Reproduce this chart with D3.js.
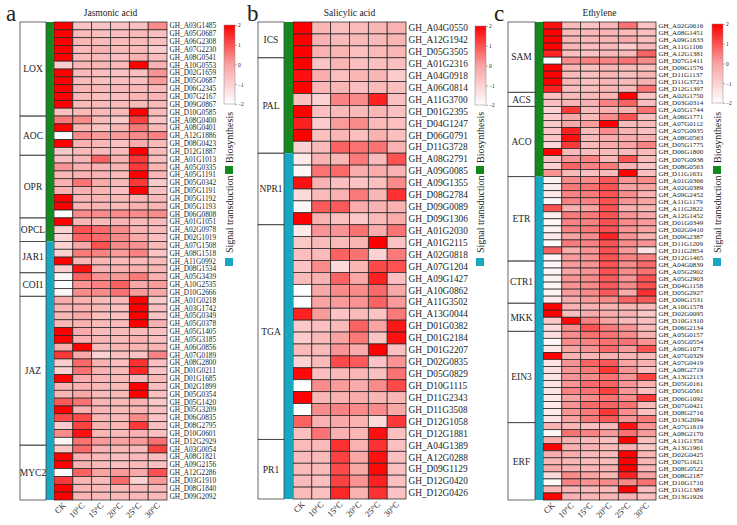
<!DOCTYPE html>
<html>
<head>
<meta charset="utf-8">
<script src="https://cdn.jsdelivr.net/npm/d3@7"></script>
<style>
  body { margin: 0; background: #fff; }
  text { font-family: "Liberation Serif", "Times New Roman", serif; fill: #222; }
</style>
</head>
<body>
<svg id="chart" width="737" height="525"></svg>
<script>
const columns = ['CK', '10°C', '15°C', '20°C', '25°C', '30°C'];
const legendTicks = [2, 1, 0, -1, -2];

// Jasmonic acid
const jaGroups = [['LOX', 12], ['AOC', 5], ['OPR', 8], ['OPCL', 3], ['JAR1', 4], ['COI1', 3], ['JAZ', 19], ['MYC2', 7]];
const jaBioCount = 28;
const jaGenes = ['GH_A03G1485', 'GH_A05G0687', 'GH_A06G2308', 'GH_A07G2230', 'GH_A08G0541', 'GH_A10G0553', 'GH_D02G1659', 'GH_D05G0687', 'GH_D06G2345', 'GH_D07G2167', 'GH_D09G0867', 'GH_D10G0585',
  'GH_A08G0400', 'GH_A08G0401', 'GH_A12G1886', 'GH_D08G0423', 'GH_D12G1887',
  'GH_A01G1013', 'GH_A05G0335', 'GH_A05G1191', 'GH_D05G0342', 'GH_D05G1191', 'GH_D05G1192', 'GH_D05G1193', 'GH_D06G0808',
  'GH_A01G1051', 'GH_A02G0978', 'GH_D02G1019',
  'GH_A07G1508', 'GH_A08G1518', 'GH_A11G0992', 'GH_D08G1534',
  'GH_A05G3439', 'GH_A10G2535', 'GH_D10G2666',
  'GH_A01G0218', 'GH_A03G1742', 'GH_A05G0349', 'GH_A05G0378', 'GH_A05G1405', 'GH_A05G3185', 'GH_A06G0856', 'GH_A07G0189', 'GH_A08G2800', 'GH_D01G0211', 'GH_D01G1685', 'GH_D02G1899', 'GH_D05G0354', 'GH_D05G1420', 'GH_D05G3209', 'GH_D06G0835', 'GH_D08G2795', 'GH_D10G0601', 'GH_D12G2929',
  'GH_A03G0054', 'GH_A08G1821', 'GH_A09G2156', 'GH_A12G2286', 'GH_D03G1910', 'GH_D08G1840', 'GH_D09G2092'];
const jaValues = [
  [2, -0.7, -0.7, -0.7, -0.6, 0.3], [2, -0.5, -0.6, -0.6, -0.5, -0.6], [2, -0.4, -0.5, -0.5, -0.5, -0.6], [2, -0.5, -0.3, -0.5, -0.5, -0.9],
  [2, -0.5, -0.5, -0.6, -0.3, -0.6], [-0.9, -0.4, -0.4, -0.5, 2, -0.3], [2, -0.5, -0.6, -0.7, -0.6, 0.2], [2, -0.5, -0.6, -0.6, -0.6, 0.1],
  [2, -0.4, -0.5, -0.5, -0.5, -0.5], [2, -0.5, -0.6, -0.6, -0.4, -0.4], [2, -0.5, -0.5, -0.5, -0.5, -0.5], [-0.6, -0.5, -0.5, -0.5, 2, -0.5],
  [0.5, 0.3, -0.5, -0.8, 1.2, -0.7], [2, -0.4, -0.7, -0.4, 0.5, -0.5], [-2, 0.3, 0.1, 0.1, 0.3, 0.4], [2, -0.3, -0.4, -0.6, -0.2, -0.5], [-0.8, -0.5, -0.5, -0.5, 2, -0.5],
  [-0.6, -0.4, 0.8, -0.3, 1.3, -0.6], [0.2, -0.3, -0.3, -0.4, 1.3, -0.4], [-0.4, -0.3, -0.3, -0.5, 2, -0.4], [-0.3, 0.6, -0.2, -0.5, 1.3, -0.9],
  [-0.3, -0.3, -0.4, -0.6, 2, -0.6], [2, -0.4, -0.4, -0.5, -0.4, -0.5], [2, -0.4, -0.4, -0.5, -0.3, -0.4], [-2, 0.3, 0.3, 0.3, 0.3, 0.3],
  [2, -0.4, -0.5, -0.4, -0.5, -0.5], [-1, 1.0, 0.7, 0.3, -0.3, -0.5], [-1.1, 0.8, 0.7, 0.3, -0.2, -0.6],
  [-1, -0.1, 1.0, 0.3, 0.2, -0.5], [-1, 0.5, 0.4, 0.1, 0.4, -0.7], [2, -0.4, -0.4, -0.5, -0.5, -0.5], [-0.9, 1.8, -0.3, -0.3, -0.3, -0.4],
  [-1.8, 0.8, 0.2, 0.1, 0.5, -0.3], [-2, 0.2, 0.4, 0.8, -0.1, 0.1], [-1.8, 0.3, 0.3, 0.6, 0.1, -0.1],
  [-0.2, -0.3, -0.5, -0.5, 2, -0.8], [-0.4, -0.3, -0.5, -0.6, 2, -0.6], [-0.4, -0.1, -0.6, -0.6, 2, -0.7], [-0.4, -0.3, -0.5, -0.5, 2, -0.3],
  [2, -0.2, -0.5, -0.5, -0.5, -0.6], [2, -0.3, -0.4, -0.5, -0.3, -0.6], [-0.2, 2, -0.5, -0.4, -0.4, -0.4], [1.3, -0.1, -1.0, -0.6, -0.7, 0.4],
  [-0.9, 0.7, -0.3, -0.6, 1.4, -0.6], [-1.0, 0.6, -0.3, -0.5, 1.5, -0.7], [2, -0.2, -0.4, -0.5, -0.5, -0.5], [-0.3, -0.3, -0.5, -0.5, 2, -0.6],
  [-0.4, -0.1, -0.5, -0.5, 2, -0.6], [0.9, 0.6, -0.4, -0.5, -0.3, -0.8], [2, -0.3, -0.4, -0.5, -0.4, -0.6], [1.1, 1.1, -0.4, -0.5, 0.3, -0.7],
  [-0.9, 1.2, -0.3, -0.4, 1.3, -0.6], [0.3, 1.8, -0.4, -0.5, -0.3, -0.6], [-1.8, 0.6, 0.1, 0.0, 0.1, 0.6],
  [-0.8, 0.7, -0.3, -0.4, -0.5, 1.2], [2, -0.3, -0.5, -0.6, -0.5, -0.6], [2, -0.3, -0.5, -0.6, -0.5, -0.6], [-1.9, 0.8, 0.0, 0.1, -0.1, 1.0],
  [1.3, -0.4, -0.5, 0.7, -1.0, 0.1], [2, -0.4, -0.5, -0.5, -0.5, -0.5], [2, -0.4, -0.5, -0.5, -0.5, -0.5]
];

// Salicylic acid
const saGroups = [['ICS', 3], ['PAL', 8], ['NPR1', 6], ['TGA', 18], ['PR1', 5]];
const saBioCount = 11;
const saGenes = ['GH_A04G0550', 'GH_A12G1942', 'GH_D05G3505',
  'GH_A01G2316', 'GH_A04G0918', 'GH_A06G0814', 'GH_A11G3700', 'GH_D01G2395', 'GH_D04G1247', 'GH_D06G0791', 'GH_D11G3728',
  'GH_A08G2791', 'GH_A09G0085', 'GH_A09G1355', 'GH_D08G2784', 'GH_D09G0089', 'GH_D09G1306',
  'GH_A01G2030', 'GH_A01G2115', 'GH_A02G0818', 'GH_A07G1204', 'GH_A09G1427', 'GH_A10G0862', 'GH_A11G3502', 'GH_A13G0044', 'GH_D01G0382',
  'GH_D01G2184', 'GH_D01G2207', 'GH_D02G0835', 'GH_D05G0829', 'GH_D10G1115', 'GH_D11G2343', 'GH_D11G3508', 'GH_D12G1058', 'GH_D12G1881',
  'GH_A04G1389', 'GH_A12G0288', 'GH_D09G1129', 'GH_D12G0420', 'GH_D12G0426'];
const saValues = [
  [2, -0.4, -0.6, -0.5, -0.4, -0.3], [2, -0.3, -0.5, -0.5, -0.5, -0.4], [2, -0.3, -0.4, -0.6, -0.5, -0.4],
  [2, -0.7, -0.4, -0.6, -0.6, -0.6], [1.8, -0.2, -0.6, -0.4, -0.4, -0.9], [2, -0.4, -0.4, -0.6, -0.5, -0.6], [-0.6, -1.0, 0.4, 0.3, 1.6, -0.6],
  [2, -0.6, -0.5, -0.5, -0.4, -0.6], [1.6, -0.9, 0.1, 0.3, -0.5, -0.6], [2, -0.6, -0.4, -0.6, -0.3, -0.6], [-1.0, -0.5, 0.8, 0.6, 0.6, -0.3],
  [-1.5, -0.3, -0.4, 0.5, -0.5, 1.0], [-1.8, 0.6, 0.7, -0.2, -0.2, -0.3], [1.8, -0.3, -0.6, -0.7, -0.6, 0.3], [-1.2, -0.5, -0.3, 0.5, -0.4, 1.4],
  [-1.8, 0.9, 0.9, -0.2, -0.3, -0.3], [2, -0.3, -0.6, -0.8, -0.5, -0.2],
  [-1.5, 0.2, 0.2, 0.6, -0.2, 0.6], [-0.8, -0.5, -0.5, -0.4, 2, -0.7], [-0.6, -0.5, 0.8, 0.6, -1.0, 0.5], [-0.7, 0.3, -1.2, -0.4, 1.1, 1.0],
  [-0.5, -0.3, 0.8, -0.1, 1.6, -0.6], [-2, -0.1, 0.3, 0.3, 0.7, -0.1], [-2, 0.0, 0.1, 0.2, 0.8, 0.1], [1.6, 0.1, -0.7, -0.5, -0.7, 0.5],
  [-0.8, -0.6, -0.5, 0.8, 0.0, 1.7], [-0.9, -0.5, 0.0, 0.5, -0.7, 1.8], [-0.5, -0.5, 0.2, -0.2, 2, -0.6], [-1.0, -0.5, 1.1, 0.9, -0.7, 0.2],
  [1.9, -0.6, -0.5, -0.4, -0.6, 0.6], [-2, 0.3, 0.1, -0.2, 0.3, 1.1], [2, -0.4, -0.3, -0.2, -0.4, -0.4], [-2, 0.3, 0.4, 0.3, 0.3, -0.1],
  [0.8, -0.3, -0.1, -0.3, -1.2, 1.3], [-0.6, 0.6, -0.3, -0.4, 1.8, -0.6],
  [-0.5, -0.5, 1.4, -0.3, 1.4, -0.6], [-0.5, -0.5, 1.2, -0.1, 1.8, -0.6], [-0.5, -0.5, 1.1, -0.1, 1.9, -0.6], [-0.5, -0.6, 1.2, 0.2, 1.6, -0.6],
  [-0.5, -0.6, 1.5, -0.3, 1.4, -0.7]
];

// Ethylene
const etGroups = [['SAM', 10], ['ACS', 2], ['ACO', 10], ['ETR', 12], ['CTR1', 6], ['MKK', 4], ['EIN3', 13], ['ERF', 11]];
const etBioCount = 22;
const etGenes = ['GH_A02G0616', 'GH_A08G1451', 'GH_A09G1633', 'GH_A11G1106', 'GH_A12G1381', 'GH_D07G1411', 'GH_D09G1576', 'GH_D11G1137', 'GH_D11G3723', 'GH_D12G1397',
  'GH_A02G1750', 'GH_D03G0314',
  'GH_A05G1744', 'GH_A06G1771', 'GH_A07G0112', 'GH_A07G0935', 'GH_A08G0563', 'GH_D05G1775', 'GH_D06G1800', 'GH_D07G0938', 'GH_D08G0563', 'GH_D11G1631',
  'GH_A01G0366', 'GH_A02G0389', 'GH_A09G2452', 'GH_A11G1179', 'GH_A11G2822', 'GH_A12G1452', 'GH_D01G0349', 'GH_D02G0410', 'GH_D09G2387', 'GH_D11G1209', 'GH_D11G2854', 'GH_D12G1465',
  'GH_A04G0839', 'GH_A05G2902', 'GH_A05G2903', 'GH_D04G1158', 'GH_D05G2927', 'GH_D09G1531',
  'GH_A10G1578', 'GH_D02G0095', 'GH_D10G1310', 'GH_D06G2134',
  'GH_A05G0157', 'GH_A05G0554', 'GH_A06G1073', 'GH_A07G0329', 'GH_A07G0419', 'GH_A08G2719', 'GH_A13G2113', 'GH_D05G0161', 'GH_D05G0561', 'GH_D06G1092', 'GH_D07G0421', 'GH_D08G2716', 'GH_D13G2094',
  'GH_A07G1619', 'GH_A08G2170', 'GH_A11G1356', 'GH_A13G1961', 'GH_D02G0425', 'GH_D07G1621', 'GH_D08G0522', 'GH_D08G2187', 'GH_D10G1710', 'GH_D11G1389', 'GH_D13G1926'];
const etValues = [
  [1.8, -0.5, -0.7, -0.4, 0.6, -0.7], [2, -0.5, -0.5, -0.4, -0.5, -0.6], [2, -0.4, -0.5, -0.4, -0.2, -0.6], [2, -0.4, -0.6, -0.5, -0.9, -0.5],
  [1.6, -0.6, -0.7, -0.5, -0.5, 0.8], [-2, 0.3, 0.4, 0.4, 0.6, 0.3], [2, -0.4, -0.6, -0.4, -0.5, -0.6], [2, -0.5, -0.6, -0.4, -0.6, -0.4],
  [2, -0.4, -0.6, -0.4, -0.5, -0.3], [1.6, -0.6, -0.6, -0.4, -0.5, 0.6],
  [-0.6, -0.5, -0.5, -0.4, 2, -0.7], [-0.6, -0.4, -0.3, 0.4, 0.8, -0.6],
  [-1.0, 1.3, -0.5, -0.3, -0.3, 0.6], [-0.9, -0.1, -0.5, 0.3, 1.0, -0.6], [-0.8, -0.1, 0.1, 2, -0.5, -0.5], [-0.7, 1.6, -0.5, 0.3, -0.3, -0.6],
  [-0.7, 1.8, -0.5, -0.2, -0.2, -0.3], [-1.1, 1.3, -0.5, -0.2, 0.0, 0.4], [2, -0.5, -0.6, -0.5, -0.5, -0.5], [-0.6, 0.2, 0.4, -0.4, 1.0, -0.5],
  [-1.0, 0.8, 0.4, 0.5, -0.3, -0.7], [0.2, -0.5, -0.6, -0.5, 2, -0.6],
  [-1.7, 0.3, 0.3, 0.9, 0.2, 0.3], [-1.6, 0.5, 0.6, 1.0, 0.0, 0.0], [-1.5, 0.4, 0.5, 1.0, 0.3, -0.3], [-1.8, 0.4, 0.4, 1.0, 0.2, 0.0],
  [1.0, -0.3, 0.0, 1.0, -0.3, -0.4], [-1.6, 0.5, 0.5, 1.0, 0.2, -0.1], [-1.8, 0.4, 0.4, 1.0, 0.3, 0.1], [-1.7, 0.4, 0.5, 1.0, 0.2, 0.0],
  [-1.5, 0.0, 0.3, 1.6, 0.2, -0.3], [-1.9, 0.5, 0.4, 1.0, 0.3, 0.2], [0.8, -0.2, 0.2, 1.0, 0.1, -1.4], [-1.8, 0.1, 0.2, 1.0, 0.4, 0.4],
  [-1.8, 0.1, 0.2, 1.0, 0.3, 0.7], [-1.8, 0.0, 0.2, 1.0, 0.3, 0.6], [-1.7, 0.2, 0.3, 0.9, 0.2, 1.0], [-1.8, 0.2, 0.3, 0.9, 0.3, 1.0],
  [-1.7, 0.1, 0.3, 0.9, -0.2, 1.4], [-1.5, -0.2, 0.1, 0.3, 0.8, 0.9],
  [2, -0.3, -0.3, -0.3, -0.4, -0.5], [2, -0.6, -0.2, -0.2, -0.3, -0.8], [-0.8, 1.9, 0.4, 0.0, -0.5, -0.6], [-1.2, 0.3, 1.0, 0.5, 0.2, -0.5],
  [-1.3, 0.3, 0.6, 0.6, 0.3, -0.3], [-1.8, 0.3, 0.4, 0.6, 0.6, 0.2], [-1.5, 0.0, 0.2, 0.7, 0.1, 1.0], [2, -0.3, -0.4, -0.3, -0.4, -0.5],
  [-1.4, 0.2, 0.8, 0.9, 0.0, -0.3], [-1.3, 0.2, 0.5, 1.3, 0.2, -0.6], [-1.4, 0.2, 0.3, 0.6, 0.2, 1.2], [-1.4, 0.2, 0.7, 0.8, 0.2, -0.3],
  [-1.4, 0.4, 0.6, 1.2, 0.2, -0.6], [-1.5, 0.0, 0.3, 0.6, 0.3, 1.3], [-1.5, 0.2, 0.7, 0.8, 0.6, -0.5], [-1.5, 0.2, 0.5, 1.3, 0.3, -0.6],
  [-1.4, 0.0, 0.5, 0.9, 0.2, 0.5],
  [-0.3, -0.4, -0.6, -0.5, 1.8, 0.2], [-1.8, 0.6, 0.4, 0.1, 0.6, 0.1], [-0.2, -0.3, -0.5, -0.6, 2, -0.6], [2, -0.3, -0.3, -0.5, -0.3, -0.8],
  [-0.2, -0.2, -0.5, -0.5, 2, -0.4], [-0.4, -0.4, -0.5, -0.5, 2, -0.4], [-0.2, -0.3, -0.4, -0.3, 2, -0.4], [-1.2, 0.3, 0.0, -0.4, 1.6, 0.0],
  [-1.9, 0.4, 0.2, 0.3, 0.3, 0.6], [-0.4, -0.4, -0.5, -0.5, 2, -0.6], [2, -0.3, -0.4, -0.4, -0.3, -0.6]
];

const bioColor = '#12891f';
const sigColor = '#17a7c1';
const color = d3.scaleLinear().domain([-2, 0, 2]).range(['#ffffff', '#f9a3a3', '#fe0000']).clamp(true);

const svg = d3.select('#chart');
const defs = svg.append('defs');

function drawPanel(cfg) {
    const g = svg.append('g');
    const x = d3.scaleBand().domain(columns).range([cfg.heatX0, cfg.heatX1]);
    const y = d3.scaleBand().domain(d3.range(cfg.genes.length)).range([cfg.top, cfg.bottom]);

    // panel letter and title
    g.append('text').attr('x', cfg.letterX).attr('y', 21)
        .style('font-size', '23px').text(cfg.letter);
    g.append('text').attr('x', (cfg.heatX0 + cfg.heatX1) / 2).attr('y', 16)
        .attr('text-anchor', 'middle').style('font-size', '9.5px').text(cfg.title);

    // cells
    cfg.values.forEach((row, i) => {
        g.selectAll(null).data(row).join('rect')
            .attr('x', (d, j) => x(columns[j]))
            .attr('y', y(i))
            .attr('width', x.bandwidth())
            .attr('height', y.bandwidth())
            .attr('fill', d => color(d))
            .attr('stroke', '#262626')
            .attr('stroke-width', 0.75);
    });

    // gene labels
    g.selectAll('.gene').data(cfg.genes).join('text')
        .attr('class', 'gene')
        .attr('x', cfg.heatX1 + 2.5)
        .attr('y', (d, i) => y(i) + y.bandwidth() / 2)
        .attr('dy', '0.35em')
        .style('font-size', cfg.geneFont + 'px')
        .text(d => d);

    // column labels
    g.selectAll('.col').data(columns).join('text')
        .attr('class', 'col')
        .attr('text-anchor', 'end')
        .attr('transform', d => 'translate(' + (x(d) + x.bandwidth() / 2 + 3) + ',' + (cfg.bottom + 6) + ') rotate(-45)')
        .style('font-size', '8.5px')
        .text(d => d);

    // category color bar
    const n = cfg.genes.length;
    g.append('rect').attr('x', cfg.barX0).attr('y', y(0))
        .attr('width', cfg.barX1 - cfg.barX0).attr('height', y.step() * cfg.bioCount)
        .attr('fill', bioColor);
    g.append('rect').attr('x', cfg.barX0).attr('y', y(cfg.bioCount))
        .attr('width', cfg.barX1 - cfg.barX0).attr('height', y.step() * (n - cfg.bioCount))
        .attr('fill', sigColor);

    // group boxes
    let start = 0;
    cfg.groups.forEach(gr => {
        const y0 = cfg.top + start * y.step();
        const h = gr[1] * y.step();
        g.append('rect').attr('x', cfg.boxX0).attr('y', y0)
            .attr('width', cfg.barX0 - cfg.boxX0).attr('height', h)
            .attr('fill', 'none').attr('stroke', '#444').attr('stroke-width', 0.8);
        g.append('text').attr('x', (cfg.boxX0 + cfg.barX0) / 2).attr('y', y0 + h / 2)
            .attr('dy', '0.35em').attr('text-anchor', 'middle')
            .style('font-size', '9.5px').text(gr[0]);
        start += gr[1];
    });

    // legend
    const lg = g.append('g');
    const ly = d3.scaleLinear().domain([2, -2]).range([cfg.legTop, cfg.legTop + 79]);
    const gradId = 'grad' + cfg.letter;
    const grad = defs.append('linearGradient').attr('id', gradId)
        .attr('x1', 0).attr('y1', 1).attr('x2', 0).attr('y2', 0);
    [-2, 0, 2].forEach(v => {
        grad.append('stop').attr('offset', ((v + 2) / 4 * 100) + '%').attr('stop-color', color(v));
    });
    lg.append('rect').attr('x', cfg.legX).attr('y', cfg.legTop).attr('width', 11).attr('height', 79)
        .attr('fill', 'url(#' + gradId + ')').attr('stroke', '#888').attr('stroke-width', 0.5);
    const ax = lg.append('g').attr('transform', 'translate(' + (cfg.legX + 11) + ',0)')
        .call(d3.axisRight(ly).tickValues(legendTicks).tickSize(2).tickFormat(d3.format('d')));
    ax.select('.domain').remove();
    ax.selectAll('line').attr('stroke', '#666').attr('stroke-width', 0.5);
    ax.selectAll('text').attr('x', 3).style('font-size', '5.5px')
        .style('font-family', '"Liberation Serif", serif').attr('fill', '#222');

    // category legend
    const cx = cfg.legX + 5;
    lg.append('text').attr('transform', 'translate(' + (cx + 3.5) + ',163) rotate(-90)')
        .style('font-size', '10px').text('Biosynthesis');
    lg.append('rect').attr('x', cx - 4).attr('y', 166).attr('width', 8).attr('height', 8).attr('fill', bioColor);
    lg.append('text').attr('transform', 'translate(' + (cx + 3.5) + ',253) rotate(-90)')
        .style('font-size', '10px').text('Signal transduction');
    lg.append('rect').attr('x', cx - 4).attr('y', 258).attr('width', 8).attr('height', 8).attr('fill', sigColor);
}

drawPanel({
    letter: 'a', title: 'Jasmonic acid', genes: jaGenes, values: jaValues, groups: jaGroups, bioCount: jaBioCount,
    letterX: 6, boxX0: 20, barX0: 46, barX1: 54, heatX0: 54, heatX1: 167, top: 22, bottom: 500,
    geneFont: 7.3, legX: 224, legTop: 25
});
drawPanel({
    letter: 'b', title: 'Salicylic acid', genes: saGenes, values: saValues, groups: saGroups, bioCount: saBioCount,
    letterX: 247, boxX0: 258, barX0: 284, barX1: 293, heatX0: 293, heatX1: 406, top: 22, bottom: 499,
    geneFont: 9.3, legX: 475, legTop: 26
});
drawPanel({
    letter: 'c', title: 'Ethylene', genes: etGenes, values: etValues, groups: etGroups, bioCount: etBioCount,
    letterX: 494, boxX0: 508, barX0: 535, barX1: 543, heatX0: 543, heatX1: 656, top: 22, bottom: 500,
    geneFont: 7, legX: 712, legTop: 24
});
</script>
</body>
</html>
